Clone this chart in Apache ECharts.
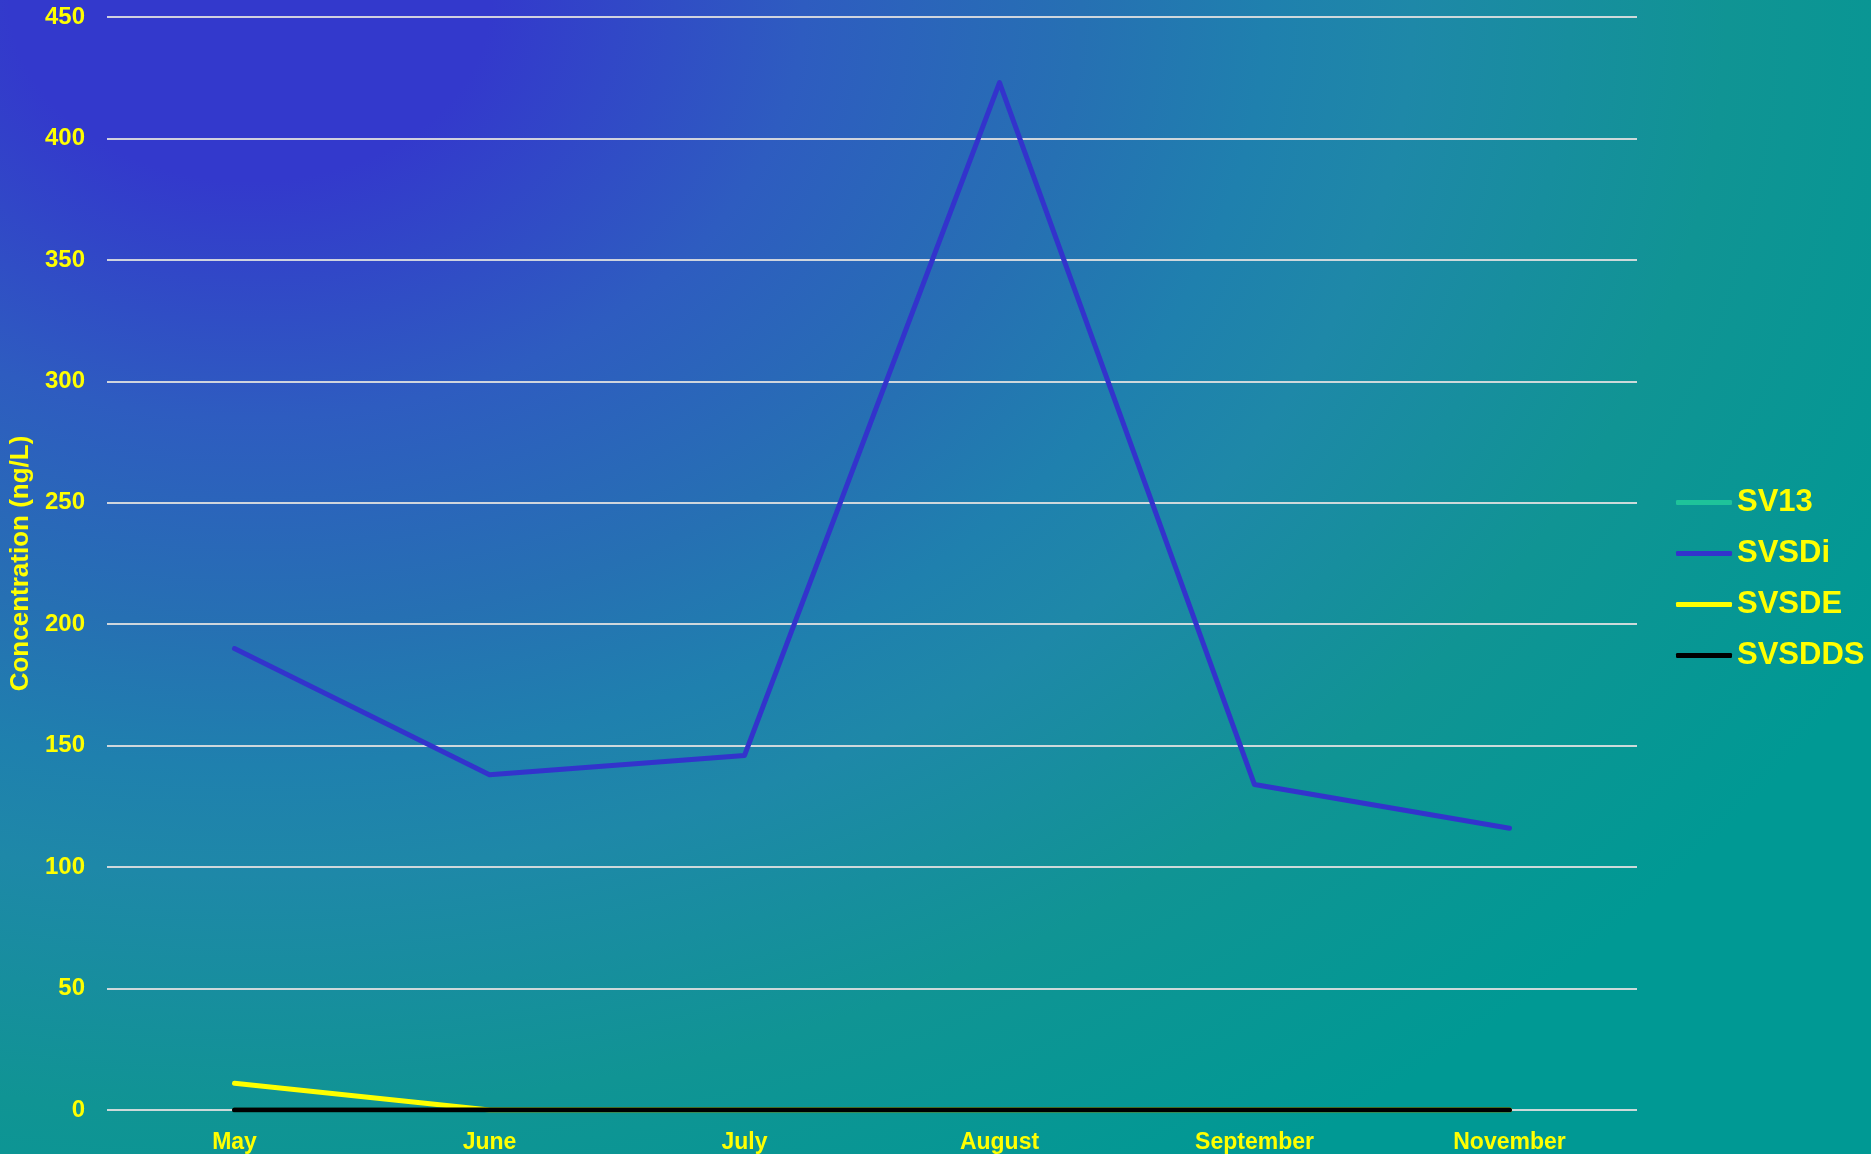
<!DOCTYPE html>
<html>
<head>
<meta charset="utf-8">
<script src="https://cdn.jsdelivr.net/npm/echarts@6/dist/echarts.min.js"></script>
<style>
  html, body { margin: 0; padding: 0; }
  #chart { width: 1871px; height: 1154px; }
</style>
</head>
<body>
<div id="chart"></div>
<script>
const months = ['May', 'June', 'July', 'August', 'September', 'November']
const sv13 = [0, 0, 0, 0, 0, 0]
const svsdi = [190, 138, 146, 423, 134, 116]
const svsde = [11, 0, 0, 0, 0, 0]
const svsdds = [0, 0, 0, 0, 0, 0]
const yTicks = [0, 50, 100, 150, 200, 250, 300, 350, 400, 450]

const font = 'Liberation Sans, Arial, sans-serif'
const yellow = '#ffff00'

const W = 1871
const H = 1154
// elliptical background glow: stretch a circular radial gradient horizontally
const stretch = 1846 / 1390

const makeSeries = (name, values, color) => ({
  name: name,
  type: 'line',
  data: values,
  symbol: 'none',
  lineStyle: { color: color, width: 5, cap: 'round', join: 'round' },
  itemStyle: { color: color },
  emphasis: { disabled: true }
})

const chart = echarts.init(document.getElementById('chart'))

const option = {
  animation: false,
  backgroundColor: '#109494',
  graphic: [
    {
      type: 'rect',
      x: 0,
      y: 0,
      scaleX: stretch,
      z: -100,
      silent: true,
      shape: { x: 0, y: 0, width: W / stretch, height: H },
      style: {
        fill: new echarts.graphic.RadialGradient(250 / stretch, 0, 1390, [
          { offset: 0, color: '#3339cc' },
          { offset: 0.13, color: '#3339cc' },
          { offset: 0.3, color: '#2e5cc0' },
          { offset: 0.45, color: '#2670b3' },
          { offset: 0.55, color: '#1f80ae' },
          { offset: 0.63, color: '#1e88a8' },
          { offset: 0.8, color: '#109494' },
          { offset: 1, color: '#009994' }
        ], true)
      }
    }
  ],
  grid: {
    left: 107,
    right: 234,
    top: 17,
    bottom: 44
  },
  legend: {
    orient: 'vertical',
    left: 1671,
    top: 482,
    icon: 'roundRect',
    itemWidth: 56,
    itemHeight: 5,
    itemGap: 20,
    data: ['SV13', 'SVSDi', 'SVSDE', 'SVSDDS'],
    textStyle: {
      color: yellow,
      fontSize: 31,
      fontWeight: 'bold',
      fontFamily: font,
      lineHeight: 31
    }
  },
  xAxis: {
    type: 'category',
    data: months,
    boundaryGap: true,
    axisLine: { show: false },
    axisTick: { show: false },
    splitLine: { show: false },
    axisLabel: {
      interval: 0,
      color: yellow,
      fontSize: 23,
      fontWeight: 'bold',
      fontFamily: font,
      margin: 21
    }
  },
  yAxis: {
    type: 'value',
    min: yTicks[0],
    max: yTicks[yTicks.length - 1],
    interval: 50,
    name: 'Concentration (ng/L)',
    nameLocation: 'middle',
    nameGap: 67,
    nameTextStyle: {
      color: yellow,
      fontSize: 26,
      fontWeight: 'bold',
      fontFamily: font
    },
    axisLine: { show: false },
    axisTick: { show: false },
    axisLabel: {
      color: yellow,
      fontSize: 24,
      fontWeight: 'bold',
      fontFamily: font,
      margin: 22
    },
    splitLine: {
      lineStyle: { color: 'rgba(225,225,225,0.9)', width: 2 }
    }
  },
  series: [
    makeSeries('SV13', sv13, '#1ec39a'),
    makeSeries('SVSDi', svsdi, '#3333cc'),
    makeSeries('SVSDE', svsde, '#ffff00'),
    makeSeries('SVSDDS', svsdds, '#000000')
  ]
}

chart.setOption(option)
window.addEventListener('resize', () => chart.resize())
</script>
</body>
</html>
